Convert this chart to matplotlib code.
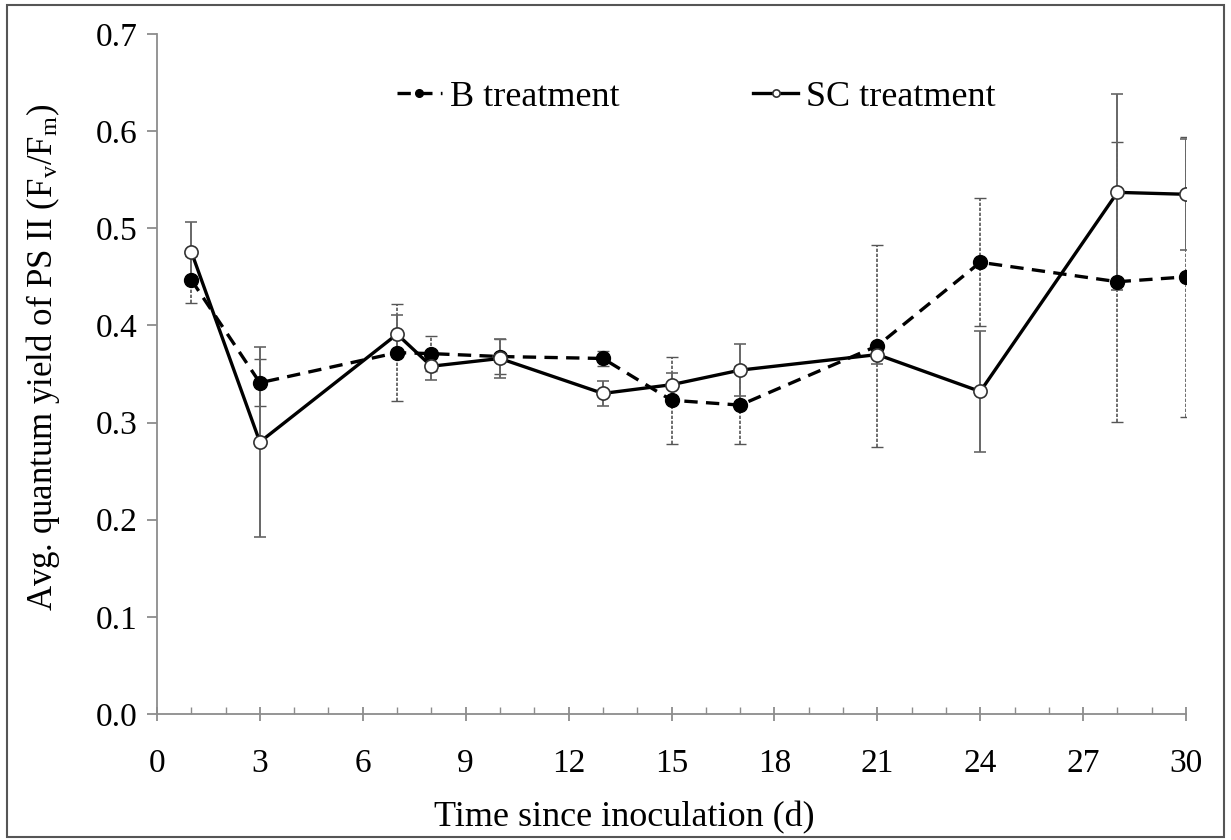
import matplotlib
matplotlib.use("Agg")
import matplotlib.pyplot as plt
from matplotlib.patches import Rectangle

plt.rcParams['font.family'] = ['Liberation Serif', 'DejaVu Serif']
plt.rcParams['mathtext.fontset'] = 'custom'
plt.rcParams['mathtext.rm'] = 'Liberation Serif'
plt.rcParams['mathtext.it'] = 'Liberation Serif:italic'

# days after inoculation
days = [1, 3, 7, 8, 10, 13, 15, 17, 21, 24, 28, 30]

# Fv/Fm means and error bars
b_mean = [0.447, 0.341, 0.372, 0.371, 0.368, 0.366, 0.323, 0.318, 0.379, 0.465, 0.445, 0.450]
b_err = [0.024, 0.024, 0.050, 0.018, 0.018, 0.008, 0.045, 0.040, 0.104, 0.066, 0.144, 0.144]
sc_mean = [0.476, 0.280, 0.391, 0.358, 0.366, 0.330, 0.339, 0.354, 0.370, 0.332, 0.537, 0.535]
sc_err = [0.030, 0.098, 0.020, 0.014, 0.020, 0.013, 0.012, 0.027, 0.010, 0.062, 0.101, 0.057]

fig = plt.figure(figsize=(12.31, 8.4), dpi=100)
ax = fig.add_axes([0.1275, 0.15, 0.836, 0.8095])

# error bars first so the lines sit on top
eb = ax.errorbar(days, b_mean, yerr=b_err, fmt='none', ecolor='#555555',
                 elinewidth=1.2, capsize=4, capthick=1.0, zorder=2)
eb[2][0].set_linestyle((0, (2, 1)))
ax.errorbar(days, sc_mean, yerr=sc_err, fmt='none', ecolor='#666666',
            elinewidth=1.4, capsize=4, capthick=1.2, zorder=2)

ax.plot(days, b_mean, color='black', lw=2.4, ls=(0, (4, 2.5)), marker='o',
        ms=10, mfc='black', mec='black', label='B treatment', zorder=3)
ax.plot(days, sc_mean, color='black', lw=2.4, ls='-', marker='o',
        ms=9.5, mfc='white', mec='#333333', mew=1.2, label='SC treatment', zorder=4)

ax.set_xlim(0, 30)
ax.set_ylim(0, 0.7)
ax.set_xticks(range(0, 31, 3))
ax.set_xticks(range(0, 31, 1), minor=True)
ax.set_yticks([i / 10 for i in range(8)])
ax.set_yticklabels(['%.1f' % (i / 10) for i in range(8)])

for side in ['top', 'right']:
    ax.spines[side].set_visible(False)
for side in ['left', 'bottom']:
    ax.spines[side].set_color('#8c8c8c')
    ax.spines[side].set_linewidth(1.3)

ax.tick_params(axis='x', which='major', direction='inout', length=10,
               width=1.3, color='#8c8c8c', labelsize=24, pad=20)
ax.tick_params(axis='x', which='minor', direction='in', length=5,
               width=1.0, color='#8c8c8c')
ax.tick_params(axis='y', which='major', direction='out', length=7,
               width=1.3, color='#8c8c8c', labelsize=24, pad=7)

ax.set_xlabel('Time since inoculation (d)', fontsize=26, va='center')
ax.xaxis.set_label_coords(0.454, -0.153)
ax.set_ylabel(r'Avg. quantum yield of PS II (F$_{\rm v}$/F$_{\rm m}$)', fontsize=25)
ax.yaxis.set_label_coords(-0.092, 0.525)

ax.legend(loc='center', bbox_to_anchor=(0.524, 0.907), ncol=2, frameon=False,
          fontsize=26, handlelength=1.25, handletextpad=0.22,
          columnspacing=3.7, markerscale=0.55)

# thin frame around the whole figure
fig.patches.append(Rectangle((0.006, 0.003), 0.988, 0.991, transform=fig.transFigure,
                             fill=False, edgecolor='#555555', lw=1.5))

fig.savefig('out.png', dpi=100)
